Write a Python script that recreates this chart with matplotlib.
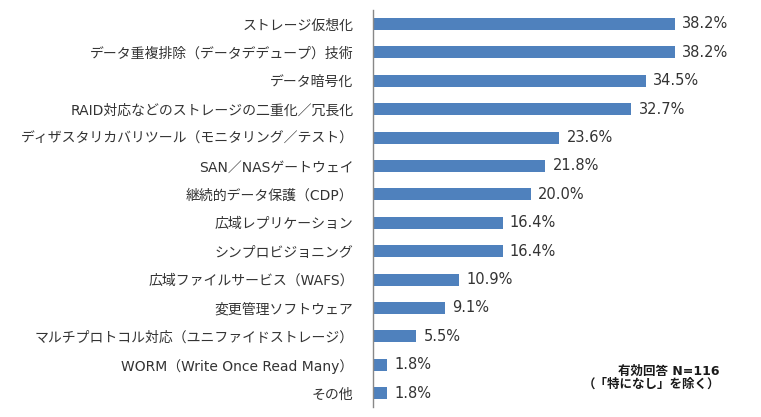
import matplotlib
matplotlib.use('Agg')
import matplotlib.pyplot as plt

plt.rcParams['font.family'] = ['DejaVu Sans', 'Noto Sans CJK JP']

categories = [
    'ストレージ仮想化',
    'データ重複排除（データデデュープ）技術',
    'データ暗号化',
    'RAID対応などのストレージの二重化／冗長化',
    'ディザスタリカバリツール（モニタリング／テスト）',
    'SAN／NASゲートウェイ',
    '継続的データ保護（CDP）',
    '広域レプリケーション',
    'シンプロビジョニング',
    '広域ファイルサービス（WAFS）',
    '変更管理ソフトウェア',
    'マルチプロトコル対応（ユニファイドストレージ）',
    'WORM（Write Once Read Many）',
    'その他',
]
values = [38.2, 38.2, 34.5, 32.7, 23.6, 21.8, 20.0, 16.4, 16.4, 10.9, 9.1, 5.5, 1.8, 1.8]

BAR_COLOR = '#4F81BD'
TEXT_COLOR = '#333333'

fig = plt.figure(figsize=(7.61, 4.17), dpi=100)
ax = fig.add_axes([373 / 761, (417 - 407.4) / 417, 388 / 761, 397.6 / 417])

ypos = list(range(len(categories)))
ax.barh(ypos, values, height=0.42, color=BAR_COLOR)

# value labels right of each bar
for y, v in zip(ypos, values):
    ax.text(v + 0.9, y, '%.1f%%' % v, va='center', ha='left', fontsize=10.5, color=TEXT_COLOR)

ax.set_yticks(ypos)
ax.set_yticklabels(categories, fontsize=10, color=TEXT_COLOR)
ax.tick_params(axis='y', length=0, pad=14)
ax.set_xticks([])
ax.set_ylim(len(categories) - 0.5, -0.5)
ax.set_xlim(0, 49.1)

for side in ['top', 'right', 'bottom']:
    ax.spines[side].set_visible(False)
ax.spines['left'].set_color('#888888')
ax.spines['left'].set_linewidth(1)

fig.text(720 / 761, 1 - 371 / 417, '有効回答 N=116', ha='right', va='center',
         fontsize=9, fontweight='bold', color='#1a1a1a')
fig.text(720 / 761, 1 - 384 / 417, '（「特になし」を除く）', ha='right', va='center',
         fontsize=9, fontweight='bold', color='#1a1a1a')

fig.savefig('out.png', dpi=100)
